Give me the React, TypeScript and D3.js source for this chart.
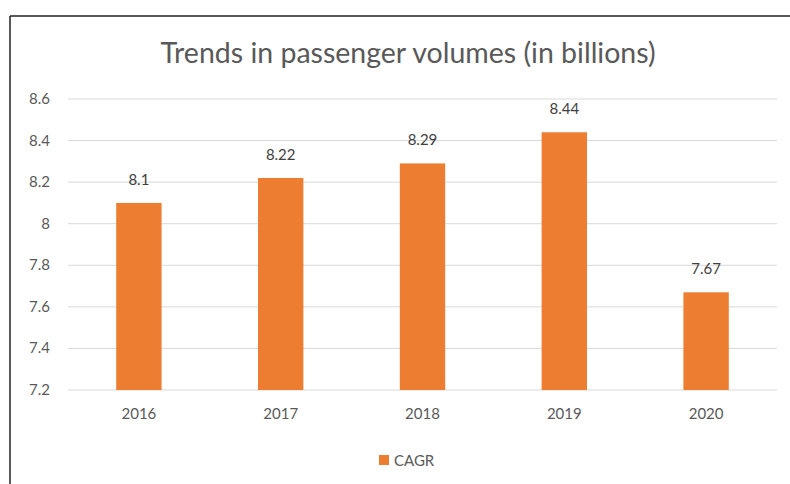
import React from "react";
import * as d3 from "d3";

const categories = ["2016", "2017", "2018", "2019", "2020"];
const values = [8.1, 8.22, 8.29, 8.44, 7.67];
const valueLabels = ["8.1", "8.22", "8.29", "8.44", "7.67"];
const yTicks = [7.2, 7.4, 7.6, 7.8, 8, 8.2, 8.4, 8.6];
const title = "Trends in passenger volumes (in billions)";
const seriesName = "CAGR";

const W = 790, H = 484;
const left = 68, right = 777, top = 99, bottom = 390;
const font = "Lato, 'Open Sans', sans-serif";

export default function App() {
  const x = d3.scaleBand<string>().domain(categories).range([left, right]).paddingInner(0.68).paddingOuter(0.34);
  const y = d3.scaleLinear().domain([7.2, 8.6]).range([bottom, top]);
  return (
    <svg width={W} height={H} style={{ position: "absolute", left: 0, top: 0, background: "#fff" }}>
      <rect x={0} y={0} width={W} height={H} fill="#fff" />
      <line x1={10} x2={W} y1={16} y2={16} stroke="#222" strokeWidth={1.5} />
      <line x1={10} x2={10} y1={16} y2={H} stroke="#222" strokeWidth={1.5} />
      <text x={408} y={63} textAnchor="middle" fontFamily={font} fontSize={28.5} fill="#595959">{title}</text>
      {yTicks.map((t) => (
        <g key={t}>
          <line x1={left} x2={right} y1={y(t)} y2={y(t)} stroke="#d9d9d9" strokeWidth={1} />
          <text x={50} y={y(t) + 5} textAnchor="end" fontFamily={font} fontSize={15} fill="#595959">{String(t)}</text>
        </g>
      ))}
      {categories.map((c, i) => (
        <g key={c}>
          <rect x={x(c)} y={y(values[i])} width={x.bandwidth()} height={bottom - y(values[i])} fill="#ed7d31" />
          <text x={(x(c) as number) + x.bandwidth() / 2} y={y(values[i]) - 18} textAnchor="middle" fontFamily={font} fontSize={15} fill="#404040">{valueLabels[i]}</text>
          <text x={(x(c) as number) + x.bandwidth() / 2} y={bottom + 29} textAnchor="middle" fontFamily={font} fontSize={15} fill="#595959">{c}</text>
        </g>
      ))}
      <rect x={379} y={455} width={10} height={10} fill="#ed7d31" />
      <text x={394} y={466} fontFamily={font} fontSize={15} fill="#595959">{seriesName}</text>
    </svg>
  );
}
